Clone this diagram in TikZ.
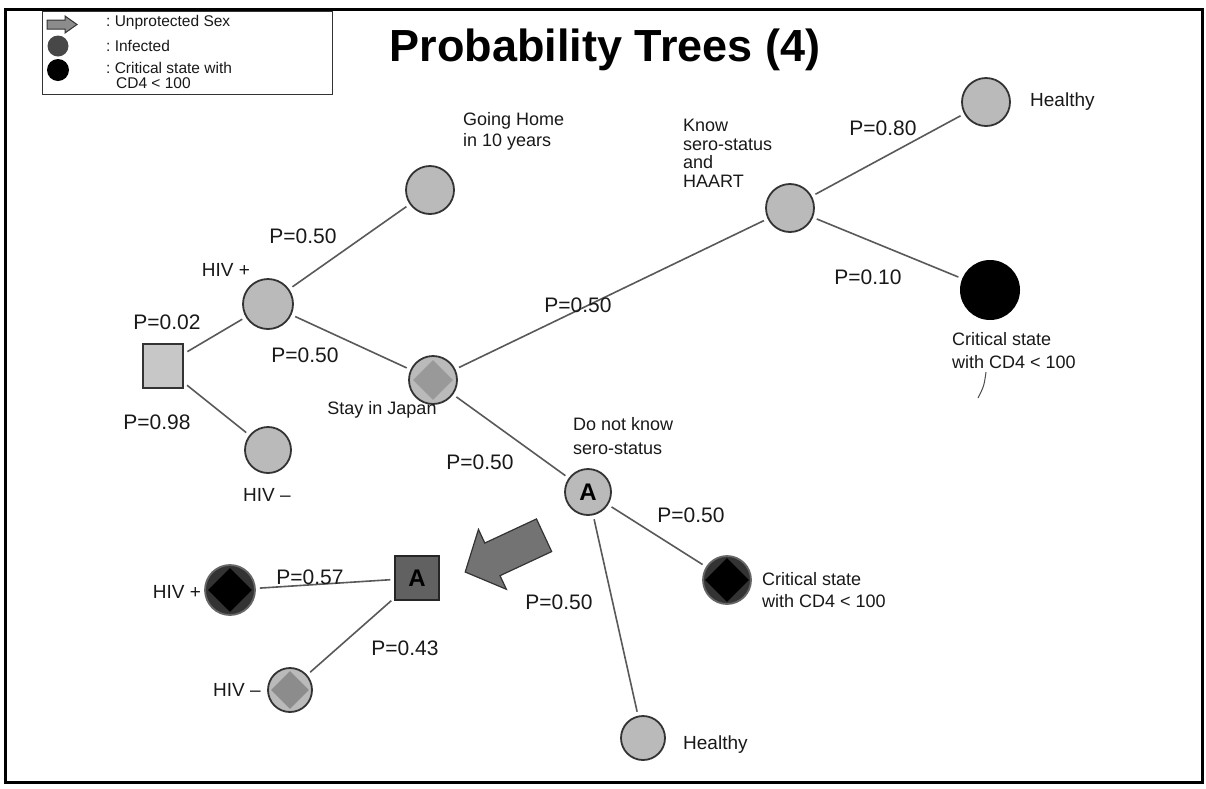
\documentclass[tikz,border=0pt]{standalone}
\usepackage{fontspec}
\setmainfont{Liberation Sans}
\usetikzlibrary{shapes.geometric}
\begin{document}
\begin{tikzpicture}[x=1pt,y=-1pt,
  lbl/.style={font=\fontsize{19}{22}\selectfont, inner sep=0pt, text=black!90},
  plbl/.style={font=\fontsize{21}{22}\selectfont, inner sep=0pt, text=black!90},
  multi/.style={font=\fontsize{19}{19}\selectfont, inner sep=0pt, align=left, text=black!90},
  legtxt/.style={font=\fontsize{15.5}{15}\selectfont, inner sep=0pt, anchor=west, text=black!90},
  lightc/.style={circle, draw=black!80, line width=1.8pt, fill=black!27, inner sep=0pt},
  darkc/.style={circle, draw=black!60, line width=1.8pt, fill=black!80, inner sep=0pt},
  dia/.style={diamond, inner sep=0pt, aspect=1},
  edge/.style={draw=black!65, line width=1.6pt, shorten <=4pt, shorten >=4pt},
]
\fill[white] (0,0) rectangle (1206,788);
\useasboundingbox (0,0) rectangle (1206,788);
\draw[line width=3pt] (5,9) rectangle (1202,782);

% legend
\node[draw=black!80, line width=1.2pt, minimum width=290pt, minimum height=83pt, anchor=north west, inner sep=0pt] (legend) at (42,11) {};
\draw[fill=black!45, draw=black!80, line width=1pt] (47,20) -- (65,20) -- (65,16) -- (77,24.5) -- (65,33) -- (65,29) -- (47,29) -- cycle;
\node[circle, fill=black!72, minimum size=21pt, inner sep=0pt] (legInf) at (58,46) {};
\node[circle, fill=black, minimum size=22pt, inner sep=0pt] (legCrit) at (58,70) {};
\node[legtxt] (legT1) at (106,22) {:\ Unprotected Sex};
\node[legtxt] (legT2) at (106,46) {:\ Infected};
\node[legtxt] (legT3) at (106,68) {:\ Critical state with};
\node[legtxt] (legT4) at (116,83) {CD4 < 100};

% title
\node[font=\fontsize{45}{48}\selectfont\bfseries, inner sep=0pt] (title) at (605,50) {Probability Trees (4)};

% nodes
\node[draw=black!80, line width=1.8pt, fill=black!22, minimum width=40pt, minimum height=44pt, inner sep=0pt] (root) at (163,366) {};
\node[lightc, minimum size=50pt] (hivp) at (268,304) {};
\node[lightc, minimum size=46pt] (hivm) at (268,450) {};
\node[lightc, minimum size=48pt] (home) at (430,190) {};
\node[lightc, minimum size=48pt] (stay) at (433,380) {};
\node[dia, fill=black!40, minimum size=40pt] (stayd) at (433,380) {};
\node[lightc, minimum size=48pt] (know) at (790,208) {};
\node[lightc, minimum size=48pt] (healthyA) at (986,102) {};
\node[circle, fill=black, minimum size=60pt, inner sep=0pt] (critA) at (990,290) {};
\node[lightc, minimum size=46pt, font=\fontsize{24}{24}\selectfont\bfseries] (Acirc) at (588,492) {A};
\node[darkc, minimum size=48pt] (critB) at (727,580) {};
\node[dia, fill=black, minimum size=44pt] (critBd) at (727,580) {};
\node[lightc, minimum size=44pt] (healthyB) at (643,738) {};
\node[draw=black!85, line width=1.5pt, fill=black!62, minimum size=44pt, inner sep=0pt, font=\fontsize{24}{24}\selectfont\bfseries] (Asq) at (417,578) {A};
\node[darkc, minimum size=50pt] (hivp2) at (230,590) {};
\node[dia, fill=black, minimum size=44pt] (hivp2d) at (230,590) {};
\node[lightc, minimum size=44pt] (hivm2) at (290,690) {};
\node[dia, fill=black!45, minimum size=38pt] (hivm2d) at (290,690) {};

% connectors
\draw[edge] (root) -- (hivp);
\draw[edge] (root) -- (hivm);
\draw[edge] (hivp) -- (home);
\draw[edge] (hivp) -- (stay);
\draw[edge] (stay) -- (know);
\draw[edge] (stay) -- (Acirc);
\draw[edge] (know) -- (healthyA);
\draw[edge] (know) -- (critA);
\draw[edge] (Acirc) -- (critB);
\draw[edge] (Acirc) -- (healthyB);
\draw[edge] (Asq) -- (hivp2);
\draw[edge] (Asq) -- (hivm2);

% big arrow
\begin{scope}[shift={(506,553)}, rotate=25]
\draw[fill=black!55, draw=black!80, line width=1.2pt] (-45,0) -- (-15,-33) -- (-15,-18) -- (42,-18) -- (42,18) -- (-15,18) -- (-15,33) -- cycle;
\end{scope}

% labels
\node[plbl] (l1) at (167,322) {P=0.02};
\node[plbl] (l2) at (157,422) {P=0.98};
\node[lbl] (l3) at (226,270) {HIV +};
\node[lbl] (l4) at (267,495) {HIV --};
\node[plbl] (l5) at (303,236) {P=0.50};
\node[plbl] (l6) at (305,355) {P=0.50};
\node[multi, anchor=west, font=\fontsize{18}{21}\selectfont] (l7) at (463,131) {Going Home\\in 10 years};
\node[lbl, font=\fontsize{18}{22}\selectfont] (l8) at (382,410) {Stay in Japan};
\node[plbl] (l9) at (578,305) {P=0.50};
\node[multi, anchor=north west, font=\fontsize{18}{18.5}\selectfont] (l10) at (683,119) {Know\\sero-status\\and\\HAART};
\node[plbl] (l11) at (883,128) {P=0.80};
\node[lbl, anchor=west] (l12) at (1030,102) {Healthy};
\node[plbl] (l13) at (868,277) {P=0.10};
\node[multi, anchor=north west, font=\fontsize{18}{23}\selectfont] (l14) at (952,332) {Critical state\\with CD4 < 100};
\draw[black!70, line width=1pt] (986,372) .. controls (984,386) .. (978,398);
\node[multi, anchor=west, font=\fontsize{18}{24}\selectfont] (l15) at (573,436) {Do not know\\sero-status};
\node[plbl] (l16) at (480,462) {P=0.50};
\node[plbl] (l17) at (691,515) {P=0.50};
\node[plbl] (l18) at (559,602) {P=0.50};
\node[multi, anchor=west, font=\fontsize{18}{22}\selectfont] (l19) at (762,590) {Critical state\\with CD4 < 100};
\node[lbl, anchor=west] (l20) at (683,745) {Healthy};
\node[lbl] (l21) at (177,592) {HIV +};
\node[plbl] (l22) at (310,577) {P=0.57};
\node[plbl] (l23) at (405,648) {P=0.43};
\node[lbl] (l24) at (237,690) {HIV --};
\end{tikzpicture}
\end{document}
